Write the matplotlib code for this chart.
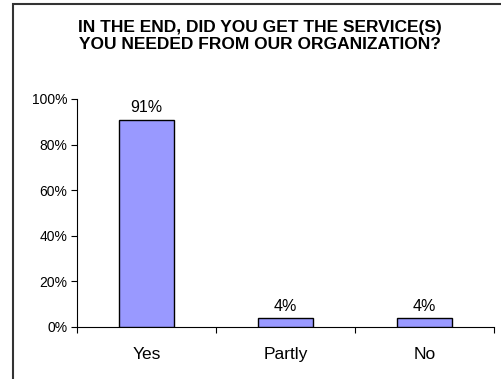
import matplotlib
matplotlib.use("Agg")
import matplotlib.pyplot as plt
from matplotlib.patches import Rectangle
from matplotlib.ticker import FixedLocator, PercentFormatter

plt.rcParams['font.family'] = ['Liberation Sans', 'DejaVu Sans']

categories = ["Yes", "Partly", "No"]
values = [91, 4, 4]
value_labels = ["91%", "4%", "4%"]
title = "IN THE END, DID YOU GET THE SERVICE(S)\nYOU NEEDED FROM OUR ORGANIZATION?"

fig = plt.figure(figsize=(5.01, 3.79), dpi=100)
ax = fig.add_axes([77 / 501, 1 - 327 / 379, (494 - 77) / 501, (327 - 99) / 379])

x = list(range(len(categories)))
bars = ax.bar(x, values, width=0.4, color="#9999FF", edgecolor="black", linewidth=1.0, zorder=3)

for b, lab in zip(bars, value_labels):
    ax.annotate(lab, (b.get_x() + b.get_width() / 2, b.get_height()),
                xytext=(0, 3), textcoords="offset points",
                ha="center", va="bottom", fontsize=11.5)

ax.set_xlim(-0.5, len(categories) - 0.5)
ax.set_ylim(0, 100)
ax.set_yticks(range(0, 101, 20))
ax.yaxis.set_major_formatter(PercentFormatter(decimals=0))
ax.set_xticks(x)
ax.set_xticklabels(categories, fontsize=12.5)
ax.xaxis.set_minor_locator(FixedLocator([i - 0.5 for i in range(len(categories) + 1)]))

ax.tick_params(axis="x", which="major", length=0, pad=14.5)
ax.tick_params(axis="x", which="minor", length=4, width=0.8, direction="out")
ax.tick_params(axis="y", length=4, width=0.8, direction="out", labelsize=10, pad=3)

for s in ("top", "right"):
    ax.spines[s].set_visible(False)
for s in ("left", "bottom"):
    ax.spines[s].set_linewidth(0.8)

fig.text(260 / 501, 1 - 36 / 379, title, ha="center", va="center",
         fontsize=12.5, fontweight="bold", linespacing=1.2)

# outer chart-area frame
fig.patches.append(Rectangle((13 / 501, -0.05), 1.2, 1 - 4 / 379 + 0.05,
                             transform=fig.transFigure, fill=False,
                             edgecolor="#333333", linewidth=1.5))

fig.savefig("out.png", dpi=100)
